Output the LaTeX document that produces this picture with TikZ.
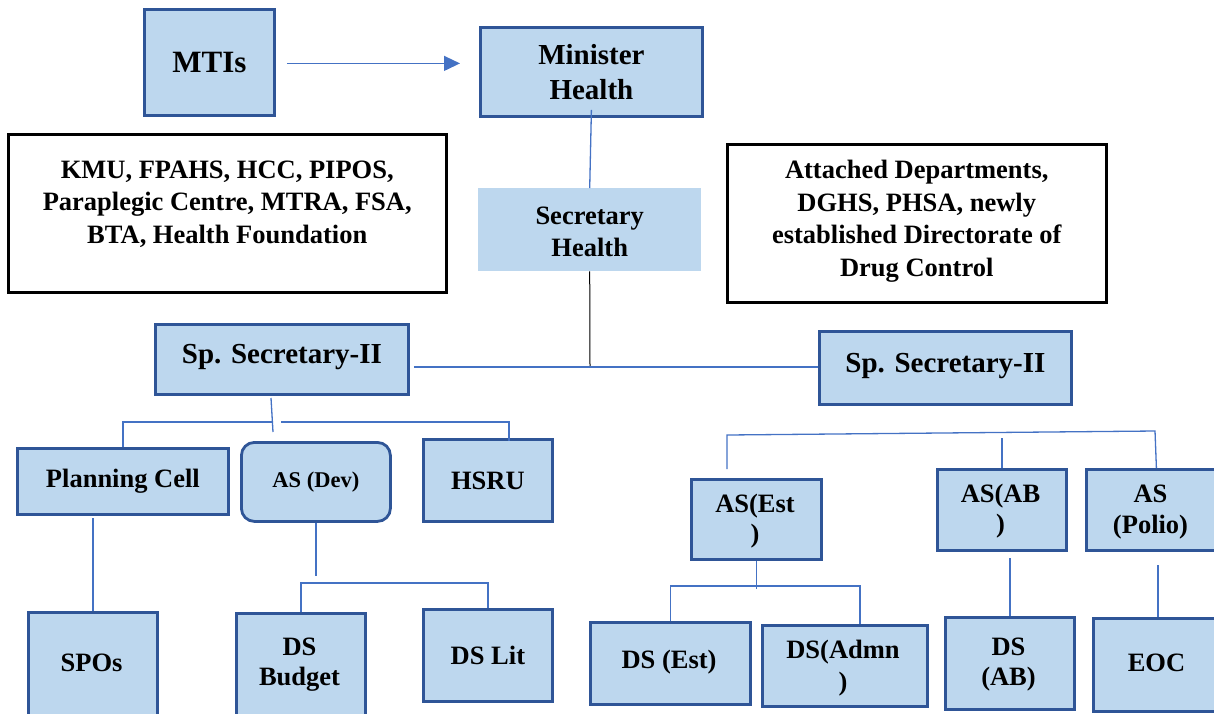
\documentclass[tikz,border=0pt]{standalone}
\usepackage{fontspec}
\setmainfont{Liberation Serif}
\usetikzlibrary{calc,arrows.meta}

\definecolor{boxfill}{HTML}{BDD7EE}
\definecolor{boxline}{HTML}{2F5597}
\definecolor{linkblue}{HTML}{4472C4}

% box from its top-left corner (x1,y1) to its bottom-right corner (x2,y2)
\newcommand\orgnode[6]{%
  \node[#2, anchor=north west, minimum width={(#5-#3)*1pt},
        minimum height={(#6-#4)*1pt}] (#1) at (#3,#4) {};}

\tikzset{
  orgbox/.style={draw=boxline, line width=2.8pt, fill=boxfill, inner sep=0pt},
  roundbox/.style={orgbox, rounded corners=13pt},
  plainbox/.style={fill=boxfill, inner sep=0pt},
  notebox/.style={draw=black, line width=2.5pt, fill=white, inner sep=0pt},
  txt/.style={font=\bfseries\fontsize{26.5}{32.5}\selectfont, align=center, inner sep=0pt},
  bigtxt/.style={txt, font=\bfseries\fontsize{29}{35}\selectfont},
  linkline/.style={draw=linkblue, line width=1.3pt},
  blackline/.style={draw=black, line width=1pt},
}

\begin{document}
\begin{tikzpicture}[x=1pt,y=-1pt]
\useasboundingbox (0,0) rectangle (1214,713);
\clip (0,0) rectangle (1214,713);

% ---- top level
\orgnode{mtis}{orgbox}{143}{8}{273}{114}
\orgnode{min}{orgbox}{479}{26}{701}{115}
\orgnode{sec}{plainbox}{478}{188}{701}{271}
\orgnode{kmu}{notebox}{7}{133}{445}{291}
\orgnode{att}{notebox}{726}{143}{1105}{301}

% ---- special secretaries
\orgnode{spl}{orgbox}{154}{323}{407}{393}
\orgnode{spr}{orgbox}{818}{330}{1070}{403}

% ---- left branch
\orgnode{plc}{orgbox}{16}{447}{227}{513}
\orgnode{dev}{roundbox}{240}{441}{389}{520}
\orgnode{hsru}{orgbox}{422}{438}{551}{520}
\orgnode{spo}{orgbox}{27}{611}{156}{722}
\orgnode{bud}{orgbox}{235}{612}{364}{722}
\orgnode{lit}{orgbox}{422}{608}{551}{700}

% ---- right branch
\orgnode{est}{orgbox}{690}{478}{820}{558}
\orgnode{abx}{orgbox}{936}{468}{1065}{549}
\orgnode{pol}{orgbox}{1085}{468}{1225}{549}
\orgnode{dse}{orgbox}{589}{621}{749}{703}
\orgnode{dsa}{orgbox}{761}{624}{926}{705}
\orgnode{dsab}{orgbox}{944}{616}{1073}{708}
\orgnode{eoc}{orgbox}{1092}{617}{1225}{710}

% ---- labels
\node[txt, font=\bfseries\fontsize{31}{36}\selectfont] (mtis-t) at (mtis.center) {MTIs};
\node[bigtxt] (min-t) at (min.center) {Minister\\Health};
\node[txt, font=\bfseries\fontsize{26.5}{32}\selectfont] (sec-t) at ($(sec.center)+(0,2)$) {Secretary\\Health};
\node[txt] (kmu-t) at ($(kmu.center)+(0,-9)$) {KMU, FPAHS, HCC, PIPOS,\\Paraplegic Centre, MTRA, FSA,\\BTA, Health Foundation};
\node[txt] (att-t) at ($(att.center)+(0,-2)$) {Attached Departments,\\DGHS, PHSA, newly\\established Directorate of\\Drug Control};
\node[bigtxt] (spl-t) at ($(spl.center)+(0,-2)$) {Sp. Secretary-II};
\node[bigtxt] (spr-t) at ($(spr.center)+(0,-2)$) {Sp. Secretary-II};
\node[txt] (plc-t) at (plc.center) {Planning Cell};
\node[txt, font=\bfseries\fontsize{22.5}{28}\selectfont] (dev-t) at (dev.center) {AS (Dev)};
\node[txt] (hsru-t) at (hsru.center) {HSRU};
\node[txt] (spo-t) at (91.5,663) {SPOs};
\node[txt, font=\bfseries\fontsize{26.5}{30}\selectfont] (bud-t) at (299.5,665) {DS\\Budget};
\node[txt] (lit-t) at (lit.center) {DS Lit};
\node[txt, font=\bfseries\fontsize{26.5}{30}\selectfont] (est-t) at (755,521) {AS(Est\\)};
\node[txt, font=\bfseries\fontsize{26.5}{30}\selectfont] (abx-t) at (1000.5,511) {AS(AB\\)};
\node[txt, font=\bfseries\fontsize{26.5}{31}\selectfont] (pol-t) at (1150.5,512) {AS\\(Polio)};
\node[txt] (dse-t) at (669,662) {DS (Est)};
\node[txt, font=\bfseries\fontsize{26.5}{32}\selectfont] (dsa-t) at (843,668) {DS(Admn\\)};
\node[txt, font=\bfseries\fontsize{26.5}{30}\selectfont] (dsab-t) at (1008.5,665) {DS\\(AB)};
\node[txt] (eoc-t) at (1156.5,663) {EOC};

% ---- connectors: top
\draw[linkline, -{Triangle[length=16pt,width=15pt]}, shorten <=11pt, shorten >=19pt]
  ($(mtis.east)+(0,1)$) -- ($(mtis.east -| min.west)+(0,1)$);
\draw[linkline] ($(min.south)+(0,-8)$) -- (sec.north);
\coordinate (hub) at (590,367);
\draw[blackline] (sec.south) -- (hub);
\draw[linkline] ($(hub -| spl.east)+(4,0)$) -- (hub -| spr.west);

% ---- connectors: left branch
\coordinate (lj-a) at (271,398);
\coordinate (lj-b) at (273,432);
\coordinate (lbar-gap-l) at (272,422);
\coordinate (lbar-gap-r) at (281,422);
\coordinate (lbar-e) at (509,422);
\draw[linkline] (lj-a) -- (lj-b);
\draw[linkline] (plc.north) |- (lbar-gap-l);
\draw[linkline] (lbar-gap-r) -- (lbar-e) -- (lbar-e |- hsru.north) -- ++(0,3);
\draw[linkline] (spo.north) -- ++(0,-93);
\draw[linkline] (dev.south) -- ++(0,53);
\draw[linkline] (bud.north) -- ++(0,-29) -| (lit.north);

% ---- connectors: right branch
\coordinate (rbar-w) at (727,435);
\coordinate (rbar-e) at (1155,431);
\draw[linkline] (727,469) -- (rbar-w) -- (rbar-e) -- (pol.north);
\draw[linkline] (abx.north) -- ++(0,-30);
\draw[linkline] (est.south) -- ++(0,28);
\coordinate (dsbar-e) at (860,586);
\draw[linkline] (dse.north) -- ++(0,-35) -- (dsbar-e) -- (dsbar-e |- dsa.north);
\draw[linkline] (dsab.north) -- ++(0,-58);
\draw[linkline] ($(eoc.north)+(-2,0)$) -- ++(0,-52);
\end{tikzpicture}
\end{document}
